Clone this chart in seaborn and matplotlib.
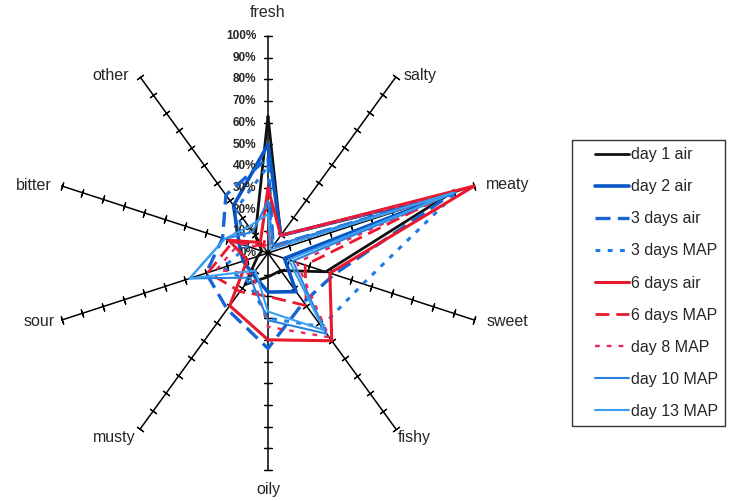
import numpy as np
import pandas as pd
import matplotlib
matplotlib.use('Agg')
import matplotlib.pyplot as plt
from matplotlib.legend_handler import HandlerLine2D
from matplotlib.lines import Line2D
import seaborn as sns

# odour attributes, clockwise from the top
attributes = ['fresh', 'salty', 'meaty', 'sweet', 'fishy', 'oily', 'musty', 'sour', 'bitter', 'other']

# share of panel (%) per attribute, same order as above
day1_air   = [63, 10, 88, 28, 10, 11, 18, 5, 3, 10]
day2_air   = [50, 10, 90, 8, 22, 18, 12, 12, 14, 27]
days3_air  = [44, 4, 90, 32, 28, 44, 32, 30, 22, 33]
days3_map  = [40, 3, 92, 46, 42, 30, 16, 22, 10, 25]
days6_air  = [30, 10, 100, 30, 50, 40, 30, 10, 19, 6]
days6_map  = [10, 3, 86, 18, 30, 20, 22, 29, 17, 4]
day8_map   = [6, 10, 88, 14, 48, 34, 12, 25, 14, 3]
day10_map  = [24, 4, 90, 12, 46, 31, 14, 38, 21, 12]
day13_map  = [18, 2, 90, 10, 44, 27, 10, 38, 21, 15]

series_names = ['day 1 air', 'day 2 air', '3 days air', '3 days MAP', '6 days air',
                '6 days MAP', 'day 8 MAP', 'day 10 MAP', 'day 13 MAP']
series_values = [day1_air, day2_air, days3_air, days3_map, days6_air,
                 days6_map, day8_map, day10_map, day13_map]

pct_ticks = list(range(0, 101, 10))

# line styles per series
styles = {
    'day 1 air':  dict(color='#111111', lw=2.0, ls='-'),
    'day 2 air':  dict(color='#0a56c4', lw=2.6, ls='-'),
    '3 days air': dict(color='#1565d4', lw=2.4, ls=(0, (4.5, 2.2))),
    '3 days MAP': dict(color='#1f7de6', lw=2.2, ls=(0, (1.6, 2.4))),
    '6 days air': dict(color='#e8192c', lw=2.2, ls='-'),
    '6 days MAP': dict(color='#e8192c', lw=2.0, ls=(0, (5, 2.5))),
    'day 8 MAP':  dict(color='#e8295a', lw=1.7, ls=(0, (2, 3))),
    'day 10 MAP': dict(color='#2a82de', lw=1.5, ls='-'),
    'day 13 MAP': dict(color='#3a9ff0', lw=1.5, ls='-'),
}

sns.set_style('white')
plt.rcParams['font.family'] = ['Liberation Sans', 'DejaVu Sans']

fig = plt.figure(figsize=(7.38, 5.01), dpi=100)
ax = fig.add_axes([0, 0, 1, 1])
# centre at (268, 253) px, 100% = 217 px
px = 2.17
ax.set_xlim(-268 / px, (738 - 268) / px)
ax.set_ylim(-(501 - 253) / px, 253 / px)
ax.axis('off')

angles_deg = 90 - 36 * np.arange(len(attributes))
angles = np.deg2rad(angles_deg)

# spokes with tick marks
for a, ad in zip(angles, angles_deg):
    ax.plot([0, 100 * np.cos(a)], [0, 100 * np.sin(a)], color='black', lw=1.1, zorder=1)
    r = np.array(pct_ticks[1:])
    ax.plot(r * np.cos(a), r * np.sin(a), ls='none', marker=(2, 2, ad), ms=6,
            mew=0.9, color='black', zorder=1)

# percentage labels on the fresh spoke
for t in pct_ticks:
    ax.text(-5.5, t, f'{t}%', ha='right', va='center', fontsize=8.5, fontweight='bold', zorder=5)

# attribute labels
label_pos = [(0, 111), (70, 82), (110.5, 31.5), (110.5, -31.5), (67.5, -85),
             (0, -109), (-71, -85), (-105.5, -31.5), (-108, 31), (-72.5, 82)]
for name, (lx, ly) in zip(attributes, label_pos):
    ax.text(lx, ly, name, ha='center', va='center', fontsize=11.5)

# profiles
for i, (name, vals) in enumerate(zip(series_names, series_values)):
    r = np.array(vals + vals[:1], dtype=float)
    a = np.append(angles, angles[0])
    df = pd.DataFrame({'x': r * np.cos(a), 'y': r * np.sin(a)})
    st = styles[name]
    sns.lineplot(data=df, x='x', y='y', sort=False, estimator=None, ax=ax,
                 color=st['color'], lw=st['lw'], linestyle=st['ls'],
                 label=name, zorder=3 + i)

handles, labels = ax.get_legend_handles_labels()
leg = ax.legend(handles, labels, loc='upper left', bbox_to_anchor=(572 / 738, 1 - 140 / 501),
                bbox_transform=fig.transFigure, borderaxespad=0, fontsize=11.5,
                frameon=True, fancybox=False, edgecolor='black', labelspacing=1.07,
                handlelength=3.1, handletextpad=0.15, borderpad=0.45,
                handler_map={Line2D: HandlerLine2D(xpad=1.0)})
leg.get_frame().set_linewidth(1.0)

fig.savefig('out.png', dpi=100, facecolor='white')
